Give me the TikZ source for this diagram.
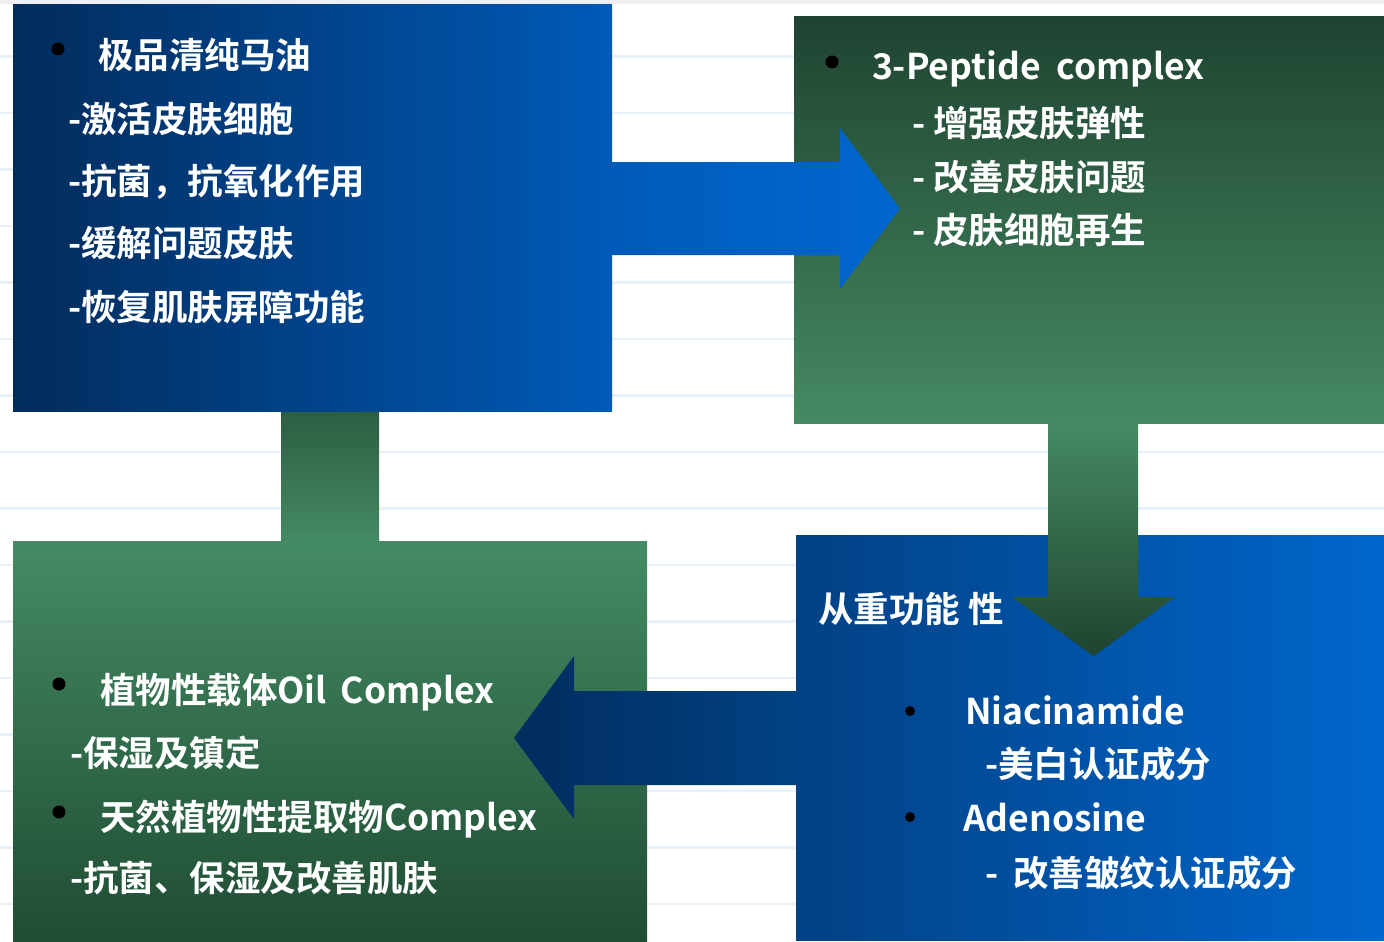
\documentclass[tikz,border=0pt]{standalone}
\usepackage{fontspec}
\newfontfamily\cjkb{Noto Sans CJK SC Bold}
\usetikzlibrary{calc}
\definecolor{paperline}{HTML}{E8F1FA}
\definecolor{topgray}{HTML}{EEF0F3}
\definecolor{bAl}{HTML}{022C5C}
\definecolor{bAr}{HTML}{005AB8}
\definecolor{bBt}{HTML}{1F4331}
\definecolor{bBb}{HTML}{458A62}
\definecolor{bCt}{HTML}{448B63}
\definecolor{bCb}{HTML}{1F4C33}
\definecolor{bDl}{HTML}{024184}
\definecolor{bDr}{HTML}{0066CC}
\definecolor{cnt}{HTML}{2C5D42}
\definecolor{cnb}{HTML}{438A62}
\definecolor{rAl}{HTML}{005BB9}
\definecolor{rAr}{HTML}{0066CF}
\definecolor{dAt}{HTML}{458B63}
\definecolor{dAb}{HTML}{1F432F}
\definecolor{lAl}{HTML}{012C5E}
\definecolor{lAr}{HTML}{014284}
\tikzset{
  panel/.style={draw=none, inner sep=0pt, outer sep=0pt, anchor=north west},
  txt/.style={anchor=base west, inner sep=0pt, outer sep=0pt, text=white,
    font=\cjkb\fontsize{35.5}{42}\selectfont},
  bigdot/.style={circle, fill=black, inner sep=0pt, minimum size=13pt},
  smalldot/.style={circle, fill=black, inner sep=0pt, minimum size=10pt},
}
\begin{document}
\begin{tikzpicture}[x=1pt,y=-1pt]
\useasboundingbox (0,0) rectangle (1384,942);
\fill[white] (0,0) rectangle (1384,942);
\fill[topgray] (0,0) rectangle (1384,4);
\foreach \k in {1,...,16} \draw[paperline, line width=2.5pt] (0,56.5*\k) -- (1384,56.5*\k);

% connector bar between box 1 and box 3
\path[top color=cnt, bottom color=cnb] (281,411) rectangle (379,541);

% panels
\node[panel, minimum width=599pt, minimum height=406pt, left color=bAl, right color=bAr] (b1) at (13,5) {};
\node[panel, minimum width=590pt, minimum height=406pt, top color=bBt, bottom color=bBb] (b2) at (794,17) {};
\node[panel, minimum width=634pt, minimum height=401pt, top color=bCt, bottom color=bCb] (b3) at (13,541) {};
\node[panel, minimum width=588pt, minimum height=405pt, left color=bDl, right color=bDr] (b4) at (796,535) {};

% block arrows
\path[left color=rAl, right color=rAr] (b1.east |- 0,162) -- (840,162) -- (840,128) -- (900,208.5) -- (840,289) -- (840,255) -- (b1.east |- 0,255) -- cycle;
\path[top color=dAt, bottom color=dAb] (1048,0 |- b2.south) -- (1048,597) -- (1012,597) -- (1093.5,656) -- (1175,597) -- (1138,597) -- (1138,0 |- b2.south) -- cycle;
\path[left color=lAl, right color=lAr] (b4.west |- 0,691) -- (574,691) -- (574,656) -- (514,738) -- (574,819) -- (574,785) -- (b4.west |- 0,785) -- cycle;

% box 1 text
\node[bigdot] (d1) at (58,49) {};
\node[txt] (t11) at (98,69) {极品清纯马油};
\node[txt] (t12) at (68,132) {-激活皮肤细胞};
\node[txt] (t13) at (68,194) {-抗菌，抗氧化作用};
\node[txt] (t14) at (68,256.5) {-缓解问题皮肤};
\node[txt] (t15) at (68,320) {-恢复肌肤屏障功能};

% box 2 text
\node[bigdot] (d2) at (832,62) {};
\node[txt] (t21) at (872,80) {3-Peptide\hspace{16pt}complex};
\node[txt] (t22) at (912,136) {- 增强皮肤弹性};
\node[txt] (t23) at (912,190) {- 改善皮肤问题};
\node[txt] (t24) at (912,243.5) {- 皮肤细胞再生};

% box 3 text
\node[bigdot] (d3) at (59,684) {};
\node[txt] (t31) at (100,703) {植物性载体Oil\hspace{14pt}Complex};
\node[txt] (t32) at (70,766) {-保湿及镇定};
\node[bigdot] (d4) at (59,812) {};
\node[txt] (t33) at (100,830) {天然植物性提取物Complex};
\node[txt] (t34) at (70,891) {-抗菌、保湿及改善肌肤};

% box 4 text
\node[txt] (t40) at (818,622) {从重功能 性};
\node[smalldot] (d5) at (910,711) {};
\node[txt] (t41) at (965,724) {Niacinamide};
\node[txt] (t42) at (985,777) {-美白认证成分};
\node[smalldot] (d6) at (910,817) {};
\node[txt] (t43) at (963,831) {Adenosine};
\node[txt] (t44) at (985,886) {-\hspace{15pt}改善皱纹认证成分};
\end{tikzpicture}
\end{document}
